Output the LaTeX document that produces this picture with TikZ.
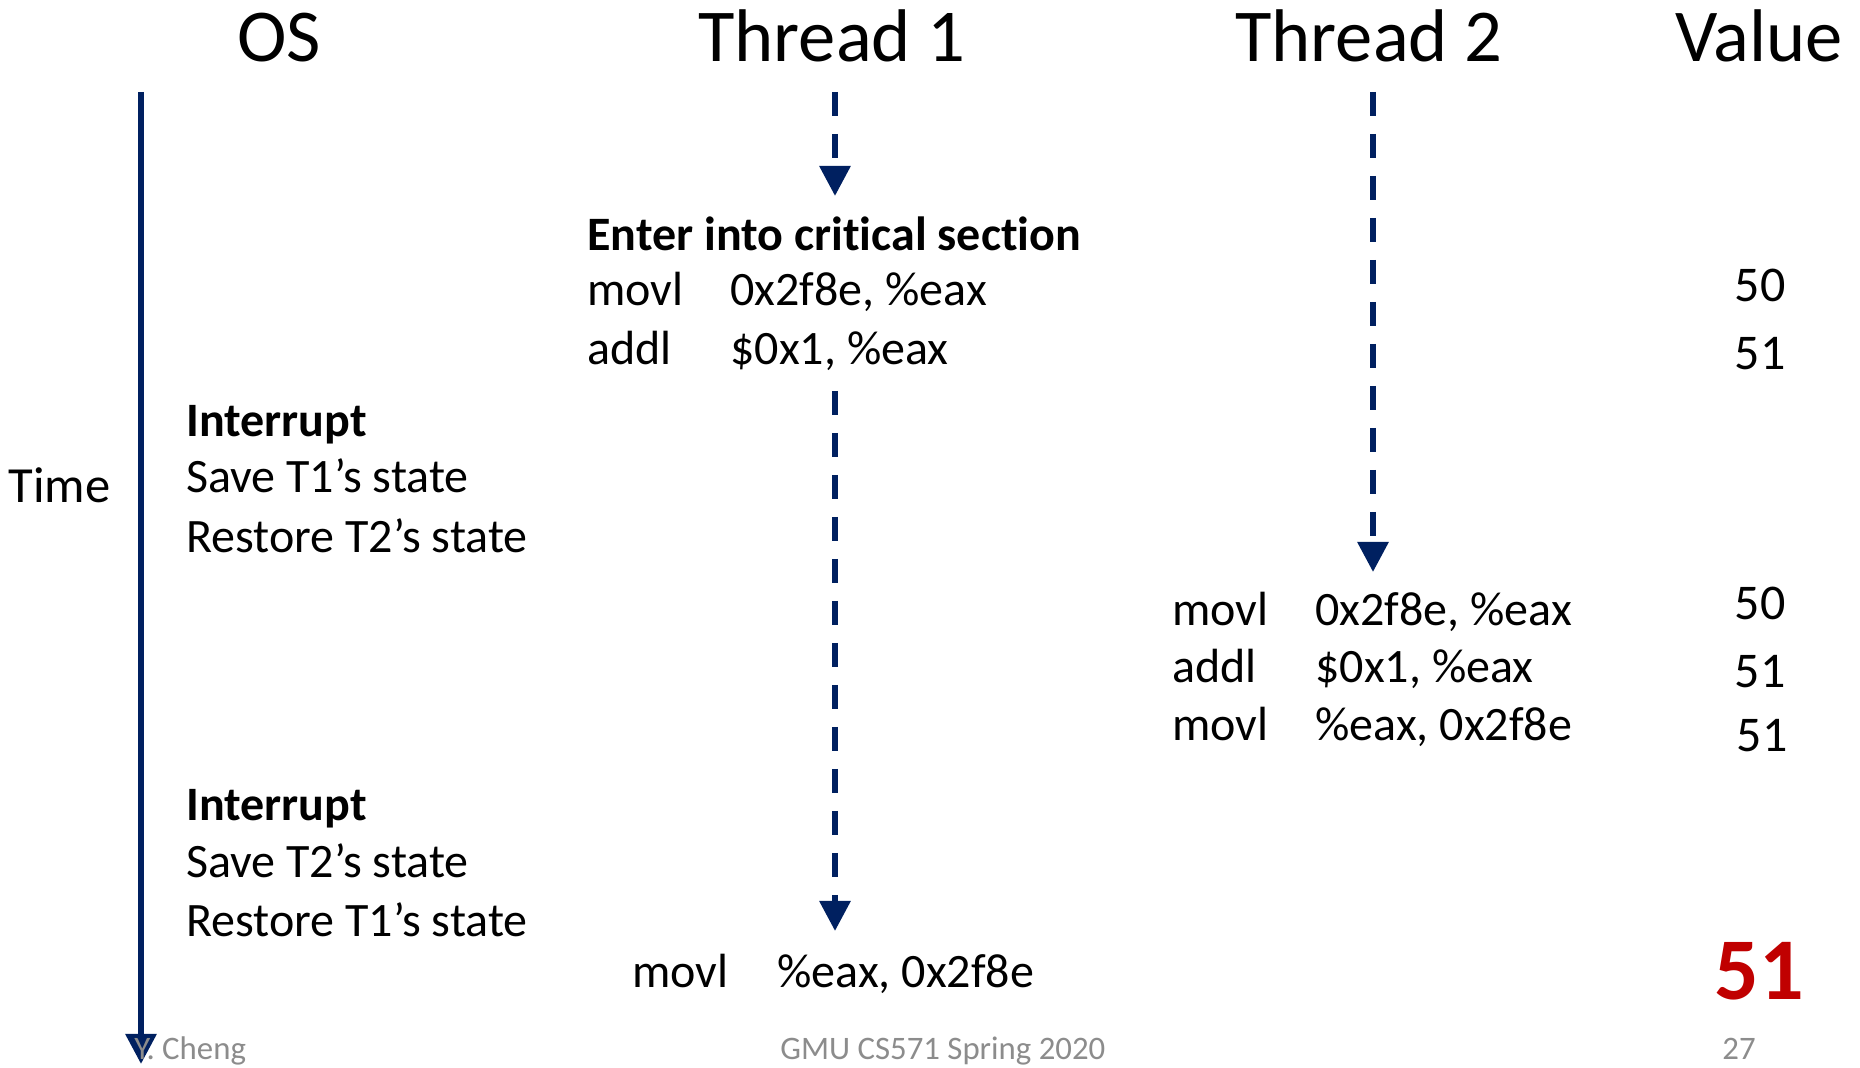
\documentclass[tikz,border=0pt]{standalone}
\usepackage{fontspec}
\setmainfont{Carlito}[Ligatures={NoCommon}]
\usetikzlibrary{arrows.meta}
\definecolor{navy}{RGB}{0,32,96}
\definecolor{darkred}{RGB}{192,0,0}
\definecolor{footgray}{RGB}{140,140,140}
\tikzset{
  head/.style={anchor=base, inner sep=0pt, font=\fontsize{37.3}{44}\selectfont},
  body/.style={anchor=base west, inner sep=0pt, font=\fontsize{24}{28}\selectfont},
  bodyb/.style={anchor=base west, inner sep=0pt, font=\fontsize{24}{28}\selectfont\bfseries},
  val/.style={anchor=base, inner sep=0pt, font=\fontsize{25}{30}\selectfont},
  foot/.style={anchor=base west, inner sep=0pt, text=footgray, font=\fontsize{16.4}{19}\selectfont},
  timeline/.style={draw=navy, line width=3pt, -{Triangle[width=15pt,length=15pt]}},
  flow/.style={draw=navy, line width=3pt, dash pattern=on 12pt off 9pt, -{Triangle[width=15pt,length=15pt]}}
}
\begin{document}
\begin{tikzpicture}[x=0.5pt,y=-0.5pt]
\useasboundingbox (0,0) rectangle (1860,1068);
% headers
\node[head] (hos) at (279,62) {OS};
\node[head] (ht1) at (832,62) {Thread 1};
\node[head] (ht2) at (1369,62) {Thread 2};
\node[head] (hval) at (1759,62) {Value};
% time axis
\coordinate (ts) at (141,92);
\coordinate (te) at (141,1064);
\draw[timeline] (ts) -- (te);
\node[anchor=base west, inner sep=0pt, font=\fontsize{25.3}{30}\selectfont] (time) at (8,503) {Time};
% thread 1 flow
\coordinate (a1s) at (835,92);
\coordinate (a1e) at (835,196);
\draw[flow] (a1s) -- (a1e);
\coordinate (a2s) at (835,391);
\coordinate (a2e) at (835,931);
\draw[flow] (a2s) -- (a2e);
% thread 2 flow
\coordinate (b1s) at (1373,92);
\coordinate (b1e) at (1373,572);
\draw[flow] (b1s) -- (b1e);
% thread 1 block
\node[bodyb] (enter) at (587,251) {Enter into critical section};
\node[body] (t1m) at (587,306) {movl};
\node[body] (t1mo) at (730,306) {0x2f8e, \%eax};
\node[body] (t1a) at (587,365) {addl};
\node[body] (t1ao) at (730,365) {\$0x1, \%eax};
\node[val] (v1) at (1760,302) {50};
\node[val] (v2) at (1760,370) {51};
% OS block 1
\node[bodyb] (int1) at (186,437) {Interrupt};
\node[body] (s1) at (186,493) {Save T1’s state};
\node[body] (r1) at (186,553) {Restore T2’s state};
% thread 2 block
\node[body] (t2m) at (1172,626) {movl};
\node[body] (t2mo) at (1315,626) {0x2f8e, \%eax};
\node[body] (t2a) at (1172,683) {addl};
\node[body] (t2ao) at (1315,683) {\$0x1, \%eax};
\node[body] (t2s) at (1172,741) {movl};
\node[body] (t2so) at (1315,741) {\%eax, 0x2f8e};
\node[val] (v3) at (1760,620) {50};
\node[val] (v4) at (1760,688) {51};
\node[val] (v5) at (1762,752) {51};
% OS block 2
\node[bodyb] (int2) at (186,821) {Interrupt};
\node[body] (s2) at (186,878) {Save T2’s state};
\node[body] (r2) at (186,937) {Restore T1’s state};
% final
\node[body] (fm) at (632,988) {movl};
\node[body] (fmo) at (777,988) {\%eax, 0x2f8e};
\node[anchor=base, inner sep=0pt, text=darkred, font=\fontsize{44}{50}\selectfont\bfseries] (vf) at (1759,1000) {51};
% footer
\node[foot] (f1) at (134,1060) {Y. Cheng};
\node[foot] (f2) at (780,1060) {GMU CS571 Spring 2020};
\node[foot] (f3) at (1722,1060) {27};
\end{tikzpicture}
\end{document}
